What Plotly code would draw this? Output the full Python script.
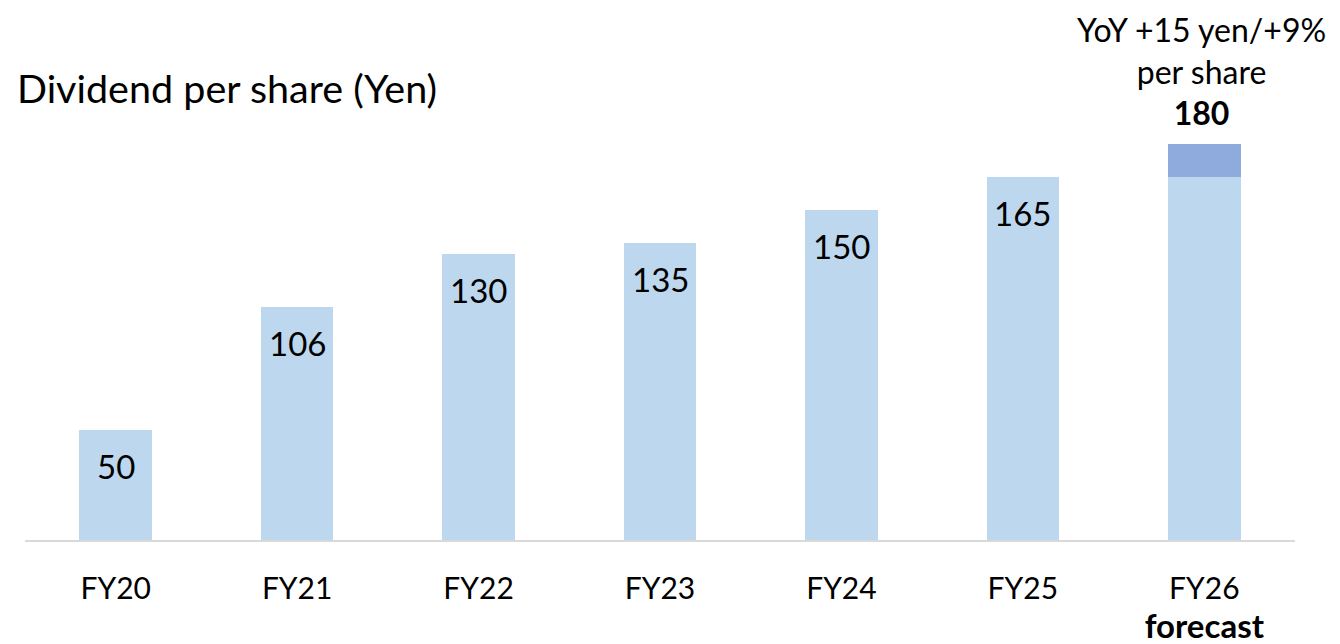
import plotly.graph_objects as go

categories = ["FY20", "FY21", "FY22", "FY23", "FY24", "FY25", "FY26"]
tick_labels = ["FY20", "FY21", "FY22", "FY23", "FY24", "FY25",
               "FY26<br><span style='font-size:33px'><b>forecast</b></span>"]
base_values = [50, 106, 130, 135, 150, 165, 165]
increase_values = [0, 0, 0, 0, 0, 0, 15]
totals = [50, 106, 130, 135, 150, 165, 180]
forecast_note = "YoY +15 yen/+9%<br>per share<br><b>180</b>"
title_text = "Dividend per share (Yen)"

FONT = "Lato"
LIGHT = "#BDD7EE"
DARK = "#8FAADC"

fig = go.Figure()
fig.add_trace(go.Bar(x=categories, y=base_values, marker=dict(color=LIGHT, line=dict(width=0)),
                     hoverinfo="skip", showlegend=False))
fig.add_trace(go.Bar(x=categories, y=increase_values, marker=dict(color=DARK, line=dict(width=0)),
                     hoverinfo="skip", showlegend=False))

annotations = []
for c, v in zip(categories[:-1], totals[:-1]):
    annotations.append(dict(x=c, y=v, xref="x", yref="y", text=str(v), showarrow=False,
                            yanchor="middle", yshift=-36, font=dict(family=FONT, size=33, color="#000000")))
annotations.append(dict(x=categories[-1], y=totals[-1], xref="x", yref="y", text=forecast_note,
                        showarrow=False, yanchor="bottom", yshift=10, xshift=-3,
                        font=dict(family=FONT, size=32, color="#000000")))
annotations.append(dict(x=0, y=1, xref="paper", yref="paper", text=title_text, showarrow=False,
                        xanchor="left", yanchor="middle", xshift=-10, yshift=13,
                        font=dict(family=FONT, size=39.5, color="#000000")))

fig.update_layout(
    width=1340, height=644,
    margin=dict(l=25, r=45, t=100, b=104, autoexpand=False),
    barmode="stack", bargap=0.6,
    plot_bgcolor="white", paper_bgcolor="white",
    annotations=annotations,
    xaxis=dict(tickmode="array", tickvals=categories, ticktext=tick_labels,
               range=[-0.5, len(categories) - 0.5],
               showline=True, linecolor="#D9D9D9", linewidth=2, showgrid=False,
               ticks="", ticklabelstandoff=21, automargin=False,
               tickfont=dict(family=FONT, size=30, color="#000000")),
    yaxis=dict(range=[0, 200], visible=False, showgrid=False, zeroline=False, automargin=False),
)

fig.write_html("out.html", config={"displayModeBar": False},
               post_script="document.body.style.margin='0';document.body.style.overflow='hidden';")
